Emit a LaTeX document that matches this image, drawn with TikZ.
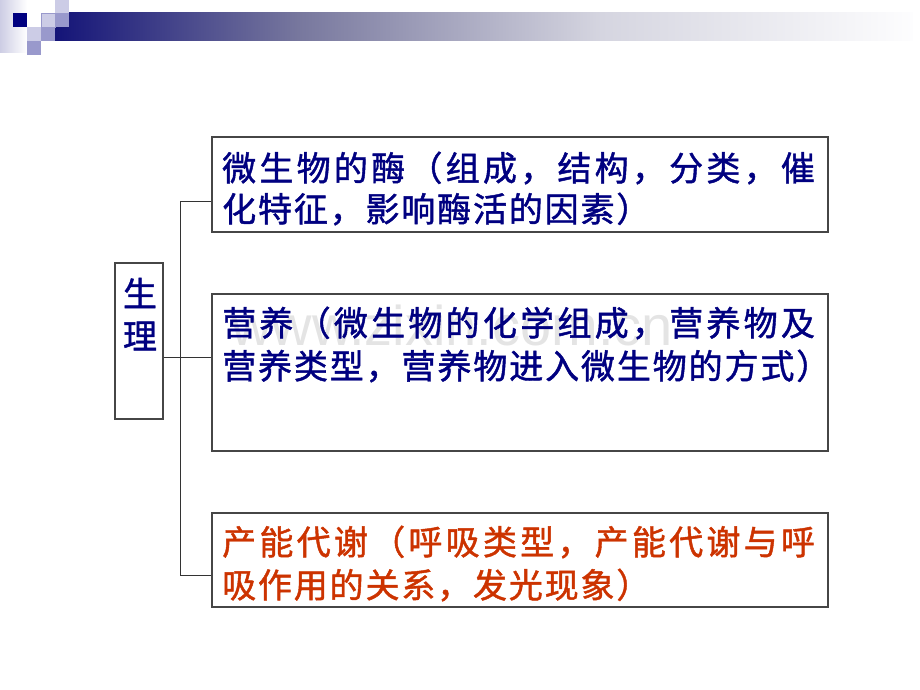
\documentclass[tikz,border=0pt]{standalone}
\usepackage{fontspec}
\newfontfamily\cjk[FakeBold=1.3]{Noto Sans CJK SC}
\newfontfamily\wmfont{Liberation Sans}
\definecolor{navytxt}{RGB}{0,0,128}
\definecolor{redtxt}{RGB}{204,51,0}
\definecolor{sqnavy}{RGB}{0,0,128}
\definecolor{sqlight}{RGB}{204,204,230}
\definecolor{sqmid}{RGB}{153,153,204}
\definecolor{stripL}{RGB}{205,205,228}
\definecolor{barA}{RGB}{20,20,120}
\definecolor{barB}{RGB}{120,120,158}
\definecolor{barC}{RGB}{213,213,224}
\definecolor{barD}{RGB}{253,253,254}
\definecolor{boxline}{RGB}{70,70,70}
\definecolor{wm}{RGB}{228,228,228}
\pgfdeclarehorizontalshading{hbar}{100bp}{color(0bp)=(barA); color(25bp)=(barA); color(39.3bp)=(barB); color(56.8bp)=(barC); color(75bp)=(barD); color(100bp)=(barD)}
\def\sprEnd{\sprEnd}
\def\sprA#1{\ifx\sprEnd#1\else #1\hfill\expandafter\sprA\fi}
\newcommand\spr[2]{\makebox[#1][s]{\sprA#2\sprEnd\hskip 0pt plus -1fil}}
\tikzset{
  boxnode/.style={draw=boxline, line width=1.3pt, rectangle, inner sep=0pt},
  conn/.style={draw=black!80, line width=1pt},
  linetxt/.style={anchor=west, inner sep=0pt, font=\cjk\fontsize{34pt}{34pt}\selectfont},
}
\begin{document}
\begin{tikzpicture}[x=1pt,y=-1pt]
\useasboundingbox (0,0) rectangle (920,690);
% header decoration
\shade[left color=stripL, right color=white] (0,0) rectangle (27,53);
\shade[shading=hbar] (55,13) rectangle (913,41);
\fill[sqnavy] (13,13) rectangle (27,27);
\fill[sqlight, draw=sqmid, line width=0.6pt] (41,13) rectangle (55,27);
\fill[sqlight] (55,0) rectangle (69,13);
\fill[sqmid] (55,13) rectangle (69,27);
\fill[sqlight] (27,27) rectangle (41,41);
\fill[sqmid] (41,27) rectangle (55,41);
\fill[sqmid] (27,41) rectangle (41,55);
% watermark
\node[anchor=base west, inner sep=0pt, text=wm, font=\wmfont\fontsize{56pt}{56pt}\selectfont] (wmk) at (231,345) {www.zixin.com.cn};
% boxes
\node[boxnode, minimum width=48pt, minimum height=156pt] (sl) at (139,341) {};
\node[boxnode, minimum width=616pt, minimum height=95pt] (b1) at (520,184.5) {};
\node[boxnode, minimum width=616pt, minimum height=157pt] (b2) at (520,372.5) {};
\node[boxnode, minimum width=616pt, minimum height=94pt] (b3) at (520,560) {};
% texts
\node[font=\cjk\fontsize{34pt}{34pt}\selectfont, text=navytxt, inner sep=0pt] (s1) at (140,293) {生};
\node[font=\cjk\fontsize{34pt}{34pt}\selectfont, text=navytxt, inner sep=0pt] (s2) at (140,336) {理};
\node[linetxt, text=navytxt] (l11) at (222,168) {\spr{596pt}{微生物的酶（组成，结构，分类，催}};
\node[linetxt, text=navytxt] (l12) at (222,209) {\spr{430pt}{化特征，影响酶活的因素）}};
\node[linetxt, text=navytxt] (l21) at (222,323) {\spr{596pt}{营养（微生物的化学组成，营养物及}};
\node[linetxt, text=navytxt] (l22) at (222,366) {\spr{610pt}{营养类型，营养物进入微生物的方式）}};
\node[linetxt, text=redtxt] (l31) at (222,542) {\spr{596pt}{产能代谢（呼吸类型，产能代谢与呼}};
\node[linetxt, text=redtxt] (l32) at (222,585) {\spr{430pt}{吸作用的关系，发光现象）}};
% connectors
\coordinate (t1) at (180,201);
\coordinate (t2) at (180,357);
\coordinate (t3) at (180,575);
\draw[conn] (b1.west|-t1) -- (t1) -- (t3) -- (b3.west|-t3);
\draw[conn] (sl.east|-t2) -- (b2.west|-t2);
\end{tikzpicture}
\end{document}
